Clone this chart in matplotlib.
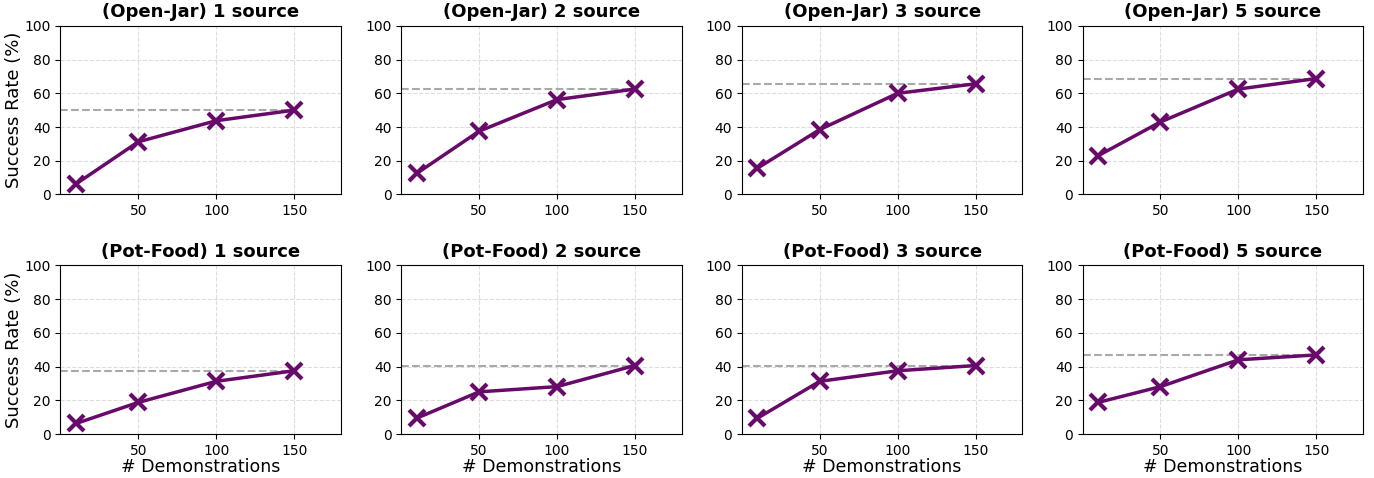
import matplotlib
matplotlib.use("Agg")
import matplotlib.pyplot as plt

demos = [10, 50, 100, 150]
tasks = ["Open-Jar", "Pot-Food"]
sources = [1, 2, 3, 5]

open_jar = [
    [6.25, 31.25, 43.75, 50.0],
    [12.5, 37.5, 56.25, 62.5],
    [15.6, 38.5, 60.0, 65.6],
    [23.0, 43.0, 62.5, 68.75],
]
pot_food = [
    [6.25, 18.75, 31.25, 37.5],
    [9.4, 25.0, 28.1, 40.6],
    [9.4, 31.25, 37.5, 40.6],
    [18.75, 28.1, 44.0, 46.9],
]
results = {"Open-Jar": open_jar, "Pot-Food": pot_food}

color = "#670a6a"

fig, axes = plt.subplots(2, 4, figsize=(13.74, 4.78), dpi=100)
fig.subplots_adjust(left=0.044, right=0.992, top=0.946, bottom=0.092,
                    wspace=0.215, hspace=0.42)

for r, task in enumerate(tasks):
    for c, src in enumerate(sources):
        ax = axes[r, c]
        ys = results[task][c]
        ax.plot([0, demos[-1]], [ys[-1], ys[-1]], "--", color="#a9a9a9", lw=1.5, zorder=2)
        ax.plot(demos, ys, "-", color=color, lw=2.5, marker="x", ms=11, mew=3, zorder=3)
        ax.set_xlim(0, 180)
        ax.set_ylim(0, 100)
        ax.set_xticks([50, 100, 150])
        ax.set_yticks(range(0, 101, 20))
        ax.tick_params(labelsize=10)
        ax.grid(True, ls="--", color="#dddddd", lw=0.8)
        ax.set_axisbelow(True)
        ax.set_title(f"({task}) {src} source", fontsize=13, fontweight="bold")
        if c == 0:
            ax.set_ylabel("Success Rate (%)", fontsize=13)
            ax.yaxis.set_label_coords(-0.132, 0.5)
        if r == 1:
            ax.set_xlabel("# Demonstrations", fontsize=12.5)
            ax.xaxis.set_label_coords(0.5, -0.14)

fig.savefig("out.png", dpi=100)
